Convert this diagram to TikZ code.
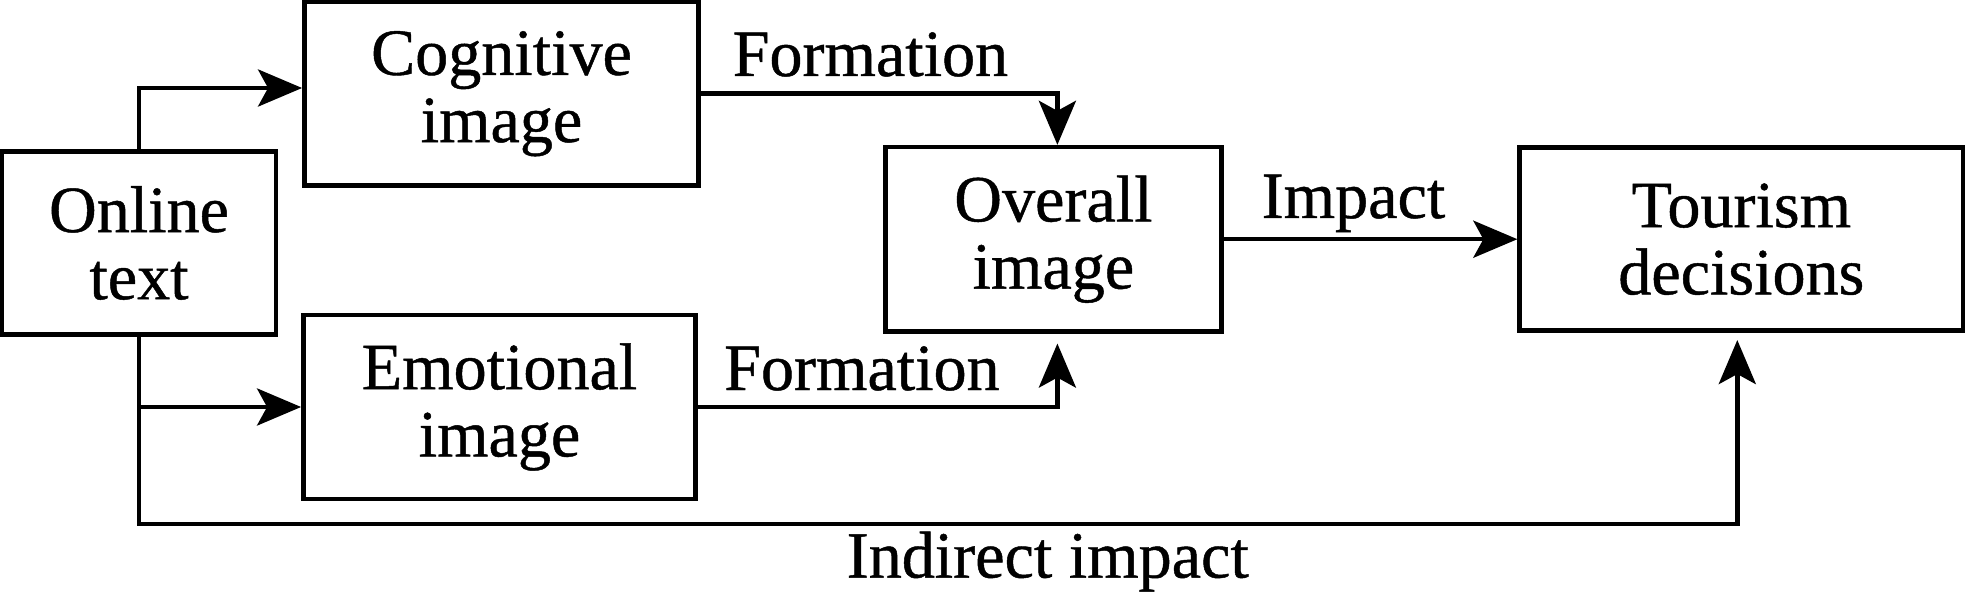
\documentclass[tikz,border=0pt]{standalone}
\usepackage{fontspec}
\setmainfont{Liberation Serif}[BoldFont={Liberation Serif},BoldFeatures={FakeBold=0.7}]
\usetikzlibrary{arrows.meta,calc}
\begin{document}
\begin{tikzpicture}[x=0.01cm,y=-0.01cm,
  box/.style={draw,line width=1.3pt,inner sep=0pt,align=center,font=\fontsize{18.8}{19.1}\selectfont\bfseries},
  lbl/.style={inner sep=0pt,anchor=base west,font=\fontsize{18.8}{19.1}\selectfont\bfseries},
  arr/.style={line width=1.3pt,-{Stealth[length=0.44cm,width=0.37cm,inset=0.1cm]}}]
\useasboundingbox (0,0) rectangle (1965,594);
\node[box,minimum width=2.74cm,minimum height=1.83cm] (online) at (139,243) {Online\\text};
\node[box,minimum width=3.94cm,minimum height=1.84cm] (cognitive) at (501.5,93.7) {Cognitive\\image};
\node[box,minimum width=3.92cm,minimum height=1.84cm] (emotional) at (499.5,407) {Emotional\\image};
\node[box,minimum width=3.36cm,minimum height=1.84cm] (overall) at (1053.4,239.2) {Overall\\image};
\node[box,minimum width=4.43cm,minimum height=1.83cm] (tourism) at (1741.3,239.2) {Tourism\\decisions};
\coordinate (cy) at (0,88);
\coordinate (by) at (0,524);
\draw[arr] (online.north) |- (cognitive.west |- cy);
\draw[arr] (online.south |- emotional.west) -- (emotional.west);
\draw[arr] (online.south) -- (online.south |- by) -| ([shift={(-4,7)}]tourism.south);
\draw[arr] (cognitive.east) -| ([shift={(4,0)}]overall.north);
\draw[arr] (emotional.east) -| ([shift={(4,10)}]overall.south);
\draw[arr] (overall.east) -- (tourism.west);
\node[lbl] (f1) at (732,76) {Formation};
\node[lbl] (f2) at (723.5,390) {Formation};
\node[lbl] (imp) at (1261,218) {Impact};
\node[lbl] (ind) at (846,577.6) {Indirect impact};
\end{tikzpicture}
\end{document}
